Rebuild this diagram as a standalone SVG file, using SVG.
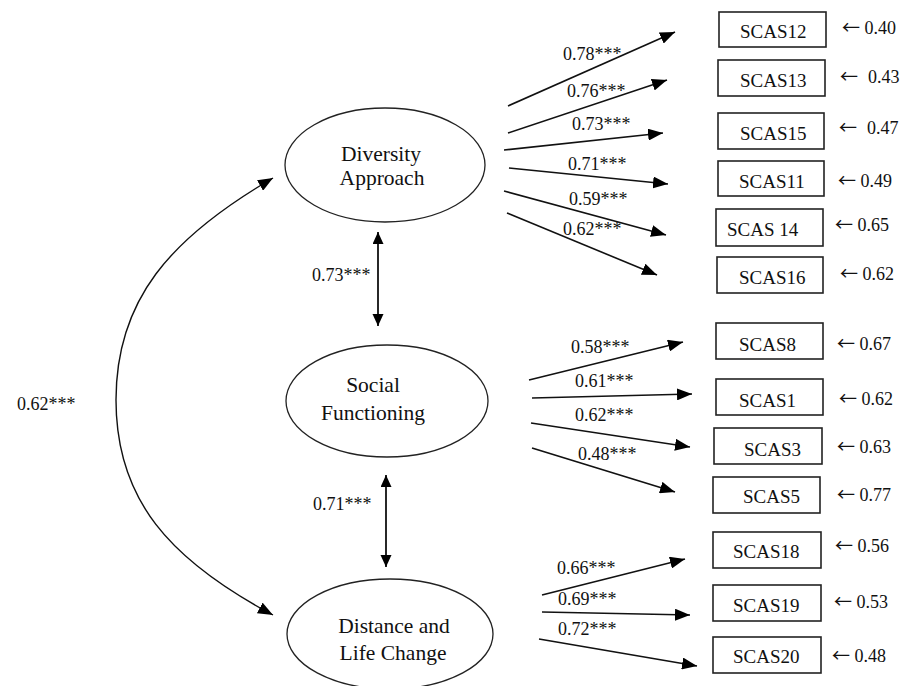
<svg xmlns="http://www.w3.org/2000/svg" width="902" height="686" viewBox="0 0 902 686">
<defs>
<marker id="ah" markerUnits="userSpaceOnUse" markerWidth="16" markerHeight="12" refX="15" refY="6" orient="auto-start-reverse">
<path d="M0,0 L15,6 L0,12 z" fill="#000"/>
</marker>
<marker id="ah2" markerUnits="userSpaceOnUse" markerWidth="12" markerHeight="12" refX="12" refY="5.5" orient="auto-start-reverse">
<path d="M0,0 L12,5.5 L0,11 z" fill="#000"/>
</marker>
<style>
.e{fill:#fff;stroke:#222;stroke-width:1.3}
.b{fill:#fff;stroke:#222;stroke-width:1.6}
.t{font-family:"Liberation Serif","Times New Roman",Times,serif;fill:#111}
.lat{font-size:21.5px;text-anchor:middle}
.box{font-size:19px}
.err{font-size:18px}
.arr{font-family:"Noto Sans CJK JP","DejaVu Sans",sans-serif;font-size:18px}
.coef{font-size:18px}
.a{stroke:#111;stroke-width:1.6;fill:none;marker-end:url(#ah)}
.c{stroke:#111;stroke-width:1.4;fill:none;marker-start:url(#ah);marker-end:url(#ah)}
.d{stroke:#111;stroke-width:1.8;fill:none;marker-start:url(#ah2);marker-end:url(#ah2)}
</style>
</defs>
<rect width="902" height="686" fill="#fff"/>

<g id="connectors">
<path class="c" d="M 273 178 C 170 238, 116 300, 116 400 C 116 500, 170 560, 273 615"/>
<line class="d" x1="378" y1="232" x2="378" y2="326"/>
<line class="d" x1="386" y1="475" x2="386" y2="567"/>
<line class="a" x1="508" y1="106" x2="675" y2="32"/>
<line class="a" x1="508" y1="133" x2="667" y2="80"/>
<line class="a" x1="504" y1="150" x2="663" y2="133"/>
<line class="a" x1="509" y1="168" x2="668" y2="184"/>
<line class="a" x1="504" y1="191" x2="666" y2="235"/>
<line class="a" x1="507" y1="213" x2="657" y2="275"/>
<line class="a" x1="529" y1="380" x2="683" y2="342"/>
<line class="a" x1="532" y1="398" x2="692" y2="394"/>
<line class="a" x1="531" y1="423" x2="690" y2="447"/>
<line class="a" x1="532" y1="448" x2="675" y2="492"/>
<line class="a" x1="542" y1="595" x2="685" y2="559"/>
<line class="a" x1="542" y1="612" x2="690" y2="615"/>
<line class="a" x1="539" y1="639" x2="697" y2="666"/>
</g>

<g id="coefficients" class="t coef">
<text x="17" y="410">0.62***</text>
<text x="312" y="281">0.73***</text>
<text x="313" y="510">0.71***</text>
<text x="563" y="60">0.78***</text>
<text x="567" y="97">0.76***</text>
<text x="572" y="130">0.73***</text>
<text x="568" y="170">0.71***</text>
<text x="569" y="205">0.59***</text>
<text x="563" y="235">0.62***</text>
<text x="571" y="353">0.58***</text>
<text x="575" y="387">0.61***</text>
<text x="575" y="421">0.62***</text>
<text x="578" y="460">0.48***</text>
<text x="557" y="574">0.66***</text>
<text x="558" y="605">0.69***</text>
<text x="558" y="635">0.72***</text>
</g>

<g id="diversity-approach">
<ellipse class="e" cx="385" cy="165" rx="100" ry="57"/>
<text class="t lat" x="381" y="161">Diversity</text>
<text class="t lat" x="382" y="185">Approach</text>
</g>
<g id="social-functioning">
<ellipse class="e" cx="387" cy="401" rx="101" ry="56"/>
<text class="t lat" x="373" y="392">Social</text>
<text class="t lat" x="373" y="420">Functioning</text>
</g>
<g id="distance-life-change">
<ellipse class="e" cx="390" cy="634" rx="103" ry="55"/>
<text class="t lat" x="394" y="633">Distance and</text>
<text class="t lat" x="393" y="660">Life Change</text>
</g>

<g id="scas12"><rect class="b" x="719" y="12" width="107" height="35"/><text class="t box" x="740" y="38">SCAS12</text><text class="t err" x="842" y="34"><tspan class="arr">←</tspan> 0.40</text></g>
<g id="scas13"><rect class="b" x="718" y="60" width="107" height="36"/><text class="t box" x="740" y="87">SCAS13</text><text class="t err" x="840" y="83"><tspan class="arr">←</tspan><tspan x="868">0.43</tspan></text></g>
<g id="scas15"><rect class="b" x="718" y="113" width="106" height="36"/><text class="t box" x="740" y="140">SCAS15</text><text class="t err" x="839" y="134"><tspan class="arr">←</tspan><tspan x="867">0.47</tspan></text></g>
<g id="scas11"><rect class="b" x="718" y="161" width="106" height="35"/><text class="t box" x="739" y="188">SCAS11</text><text class="t err" x="838" y="187"><tspan class="arr">←</tspan> 0.49</text></g>
<g id="scas14"><rect class="b" x="716" y="209" width="107" height="37"/><text class="t box" x="727" y="236">SCAS 14</text><text class="t err" x="835" y="231"><tspan class="arr">←</tspan> 0.65</text></g>
<g id="scas16"><rect class="b" x="717" y="257" width="106" height="36"/><text class="t box" x="739" y="284">SCAS16</text><text class="t err" x="840" y="280"><tspan class="arr">←</tspan> 0.62</text></g>
<g id="scas8"><rect class="b" x="716" y="323" width="107" height="36"/><text class="t box" x="739" y="351">SCAS8</text><text class="t err" x="837" y="350"><tspan class="arr">←</tspan> 0.67</text></g>
<g id="scas1"><rect class="b" x="716" y="379" width="107" height="36"/><text class="t box" x="739" y="407">SCAS1</text><text class="t err" x="839" y="405"><tspan class="arr">←</tspan> 0.62</text></g>
<g id="scas3"><rect class="b" x="714" y="428" width="108" height="36"/><text class="t box" x="744" y="456">SCAS3</text><text class="t err" x="837" y="453"><tspan class="arr">←</tspan> 0.63</text></g>
<g id="scas5"><rect class="b" x="713" y="477" width="107" height="36"/><text class="t box" x="743" y="503">SCAS5</text><text class="t err" x="837" y="501"><tspan class="arr">←</tspan> 0.77</text></g>
<g id="scas18"><rect class="b" x="713" y="532" width="108" height="36"/><text class="t box" x="733" y="558">SCAS18</text><text class="t err" x="835" y="552"><tspan class="arr">←</tspan> 0.56</text></g>
<g id="scas19"><rect class="b" x="713" y="585" width="108" height="36"/><text class="t box" x="733" y="612">SCAS19</text><text class="t err" x="834" y="608"><tspan class="arr">←</tspan> 0.53</text></g>
<g id="scas20"><rect class="b" x="713" y="637" width="108" height="36"/><text class="t box" x="733" y="663">SCAS20</text><text class="t err" x="832" y="662"><tspan class="arr">←</tspan> 0.48</text></g>
</svg>
